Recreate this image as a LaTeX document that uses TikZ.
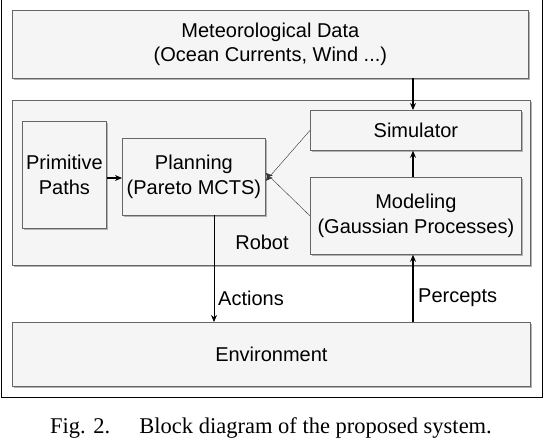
\documentclass[tikz,border=0pt]{standalone}
\usepackage{fontspec}
\setmainfont{Liberation Sans}
\newfontfamily\capfont{Liberation Serif}
\usetikzlibrary{arrows.meta,shadows}
\definecolor{boxfill}{HTML}{F5F5F5}
\definecolor{boxline}{HTML}{666666}
\tikzset{
  blk/.style={draw=boxline, line width=0.8pt, fill=boxfill, inner sep=0pt,
    drop shadow={shadow xshift=2pt, shadow yshift=-2pt, fill=gray!60, opacity=1},
    align=center, font=\fontsize{20}{24.5}\selectfont},
  lbl/.style={font=\fontsize{20}{24}\selectfont, inner sep=0pt},
  thickarr/.style={line width=1.1pt, -{Stealth[length=7pt,width=6pt]}},
  thinarr/.style={line width=0.4pt, draw=black!80, -{Stealth[length=7pt,width=6pt]}},
}
\begin{document}
\begin{tikzpicture}[x=1pt,y=-1pt]
\useasboundingbox (0,0) rectangle (544,442);
\draw[line width=0.8pt] (1,0) -- (1,397) -- (542,397) -- (542,0);
% robot container
\node[blk, minimum width=518pt, minimum height=165pt, anchor=north west] (robot) at (12,100) {};
\node[lbl] (robotlbl) at (262,242) {Robot};
% boxes
\node[blk, minimum width=516pt, minimum height=68pt, anchor=north west] (met) at (12,10) {Meteorological Data\\(Ocean Currents, Wind ...)};
\node[blk, minimum width=84pt, minimum height=107pt, anchor=north west] (prim) at (22,121) {Primitive\\Paths};
\node[blk, minimum width=143pt, minimum height=77pt, anchor=north west] (plan) at (122,138) {Planning\\(Pareto MCTS)};
\node[blk, minimum width=211pt, minimum height=40pt, anchor=north west] (sim) at (310,110) {Simulator};
\node[blk, minimum width=211pt, minimum height=77pt, anchor=north west] (mod) at (310,177) {Modeling\\(Gaussian Processes)};
\node[blk, minimum width=518pt, minimum height=64pt, anchor=north west] (env) at (12,322) {Environment};
% connectors
\coordinate (mettap) at (413,78);
\draw[thickarr] (mettap) -- (mettap |- sim.north);
\draw[thickarr] (mod.north -| mettap) -- (sim.south -| mettap);
\draw[thickarr] (prim.east |- 0,178) -- (plan.west |- 0,178);
\draw[thinarr] (sim.west) -- ([yshift=-4pt]plan.east);
\draw[thinarr] (mod.west) -- ([yshift=4pt]plan.east);
\coordinate (acttap) at (214,215);
\draw[line width=0.8pt, -{Stealth[length=7pt,width=6pt]}] (acttap) -- (acttap |- env.north);
\draw[thickarr] (env.north -| mettap) -- (mod.south -| mettap);
\node[lbl, anchor=west] (actlbl) at (218,298) {Actions};
\node[lbl, anchor=west] (perlbl) at (418,298) {Percepts};
% caption
\node[font=\capfont\fontsize{22.5}{26}\selectfont, inner sep=0pt] (cap) at (271,428) {Fig. 2.\hspace{1.3em}Block diagram of the proposed system.};
\end{tikzpicture}
\end{document}
